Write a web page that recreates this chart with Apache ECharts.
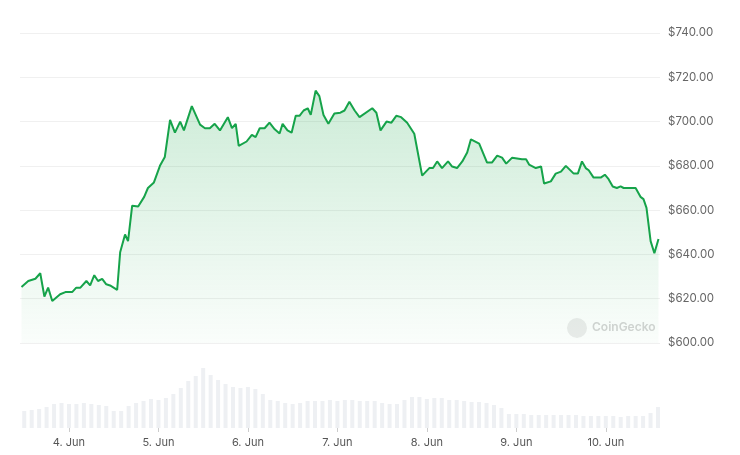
<!DOCTYPE html>
<html><head><meta charset="utf-8">
<script src="https://cdn.jsdelivr.net/npm/echarts@6/dist/echarts.min.js"></script>
<style>html,body{margin:0;padding:0;background:#fff}#c{width:740px;height:455px}</style>
</head><body><div id="c"></div>
<script>
// hours since 4 Jun 00:00 UTC
const priceHours = [-12.2,-10.4,-8.5,-7.2,-6.1,-5.1,-4.0,-1.9,-0.5,1.3,2.4,3.5,5.1,6.1,7.2,8.2,9.3,10.4,11.4,13.3,14.1,15.4,16.2,17.3,18.9,20.5,21.5,23.1,24.7,26.0,27.4,28.7,30.1,31.1,33.2,35.4,36.7,38.0,39.3,40.7,42.8,43.9,44.9,45.7,47.8,49.2,50.2,51.3,52.6,53.9,55.3,56.6,57.4,58.7,59.8,60.9,61.9,63.0,64.1,64.9,66.2,67.2,68.3,69.6,71.2,72.8,73.9,75.2,76.6,77.9,81.3,82.4,83.5,85.1,86.4,87.7,89.0,90.6,92.5,94.6,96.5,97.5,98.6,99.9,101.5,102.6,103.9,105.3,106.6,107.6,109.8,111.9,113.2,114.6,115.9,117.0,118.6,121.2,122.3,123.1,124.9,126.3,127.1,128.9,130.2,131.6,132.9,135.0,136.1,137.2,138.2,139.0,140.3,142.2,143.3,144.3,145.4,146.5,147.5,148.3,151.5,152.8,153.6,154.4,155.5,156.5,157.6];
const prices = [625.3,628,629,631.5,621,625,619,622,623,623,625,625,628,626,630.6,628,629,626.5,626,624,641,649,646,662,661.6,666,670,672.5,680,684,700.8,695,700,696,707,698.6,697,697,699,696,702,697,699,689,691,694,693,697,697,699.5,696.5,694.6,699,696,695,702.6,702.6,705,706,703,714,711.5,703,699,703.6,704,705,709,705,702,706,704,696,700,699.5,702.6,702,699.5,694.5,675.6,679,679,682,679,682,679.7,679,682,686,692,690,681.5,681.5,684.6,683.7,681,683.7,683,683,680.6,679,679.7,672,673,676.5,677.4,680,676.5,676.5,682,679,678,674.7,674.7,676,674,670.7,670,670.7,670,670,666,665,661,646,640.5,647];
const volStartHour = -12, volStepHours = 2;
const volumes = [17,18,19,21,24,25,24,24,25,24,23,22,17,17,22,25,27,29,28,30,34,40,47,52,60,53,48,44,41,40,41,39,34,28,27,25,24,25,27,27,27,28,27,28,28,27,27,27,25,24,24,28,31,31,29,30,30,28,28,27,26,26,25,23,20,14,14,14,13,13,13,13,13,13,13,12,12,12,12,12,11,12,12,12,15,21];
const yTicks = [600,620,640,660,680,700,720,740];

const H = 3600e3, base = Date.UTC(2024,5,4);
const priceData = priceHours.map((h,i)=>[base+h*H, prices[i]]);
const volData = volumes.map((v,i)=>[base+(volStartHour+i*volStepHours)*H, v]);
const xmin = base-12.6*H, xmax = base+158*H;
const chart = echarts.init(document.getElementById('c'));
const fmt = v => { const d=new Date(v); return d.getUTCDate()+'. Jun'; };
chart.setOption({
  useUTC:true, animation:false,
  grid:[{left:20,right:80,top:33,height:310},{left:20,right:80,top:368,height:60}],
  xAxis:[
    {type:'time',gridIndex:0,min:xmin,max:xmax,show:false},
    {type:'time',gridIndex:1,min:xmin,max:xmax,interval:24*H,
     axisLine:{show:false},axisTick:{show:true,length:4,lineStyle:{color:'#ccc'}},splitLine:{show:false},
     axisLabel:{formatter:fmt,color:'#555',fontSize:11,fontFamily:'Inter',margin:9,showMinLabel:false,showMaxLabel:false}}
  ],
  yAxis:[
    {type:'value',gridIndex:0,position:'right',min:600,max:740,interval:20,
     axisLine:{show:false},axisTick:{show:false},
     splitLine:{lineStyle:{color:'#f0f0f0'}},
     axisLabel:{color:'#666',fontSize:11.5,fontFamily:'Inter',margin:8,formatter:v=>'$'+v.toFixed(2)}},
    {type:'value',gridIndex:1,min:0,max:60,show:false}
  ],
  series:[
    {type:'line',xAxisIndex:0,yAxisIndex:0,data:priceData,symbol:'none',
     lineStyle:{color:'#16a34a',width:2},
     areaStyle:{origin:'start',color:new echarts.graphic.LinearGradient(0,0,0,1,[{offset:0,color:'rgba(34,170,80,0.32)'},{offset:1,color:'rgba(34,170,80,0.03)'}])}},
    {type:'bar',xAxisIndex:1,yAxisIndex:1,data:volData,barWidth:4,itemStyle:{color:'#eef0f3'}}
  ],
  graphic:[
    {type:'circle',shape:{cx:577,cy:328,r:10},style:{fill:'#ececec'}},
    {type:'text',left:592,top:321,style:{text:'CoinGecko',fill:'#d4d4d4',font:'600 12px Inter'}}
  ]
});
</script></body></html>
